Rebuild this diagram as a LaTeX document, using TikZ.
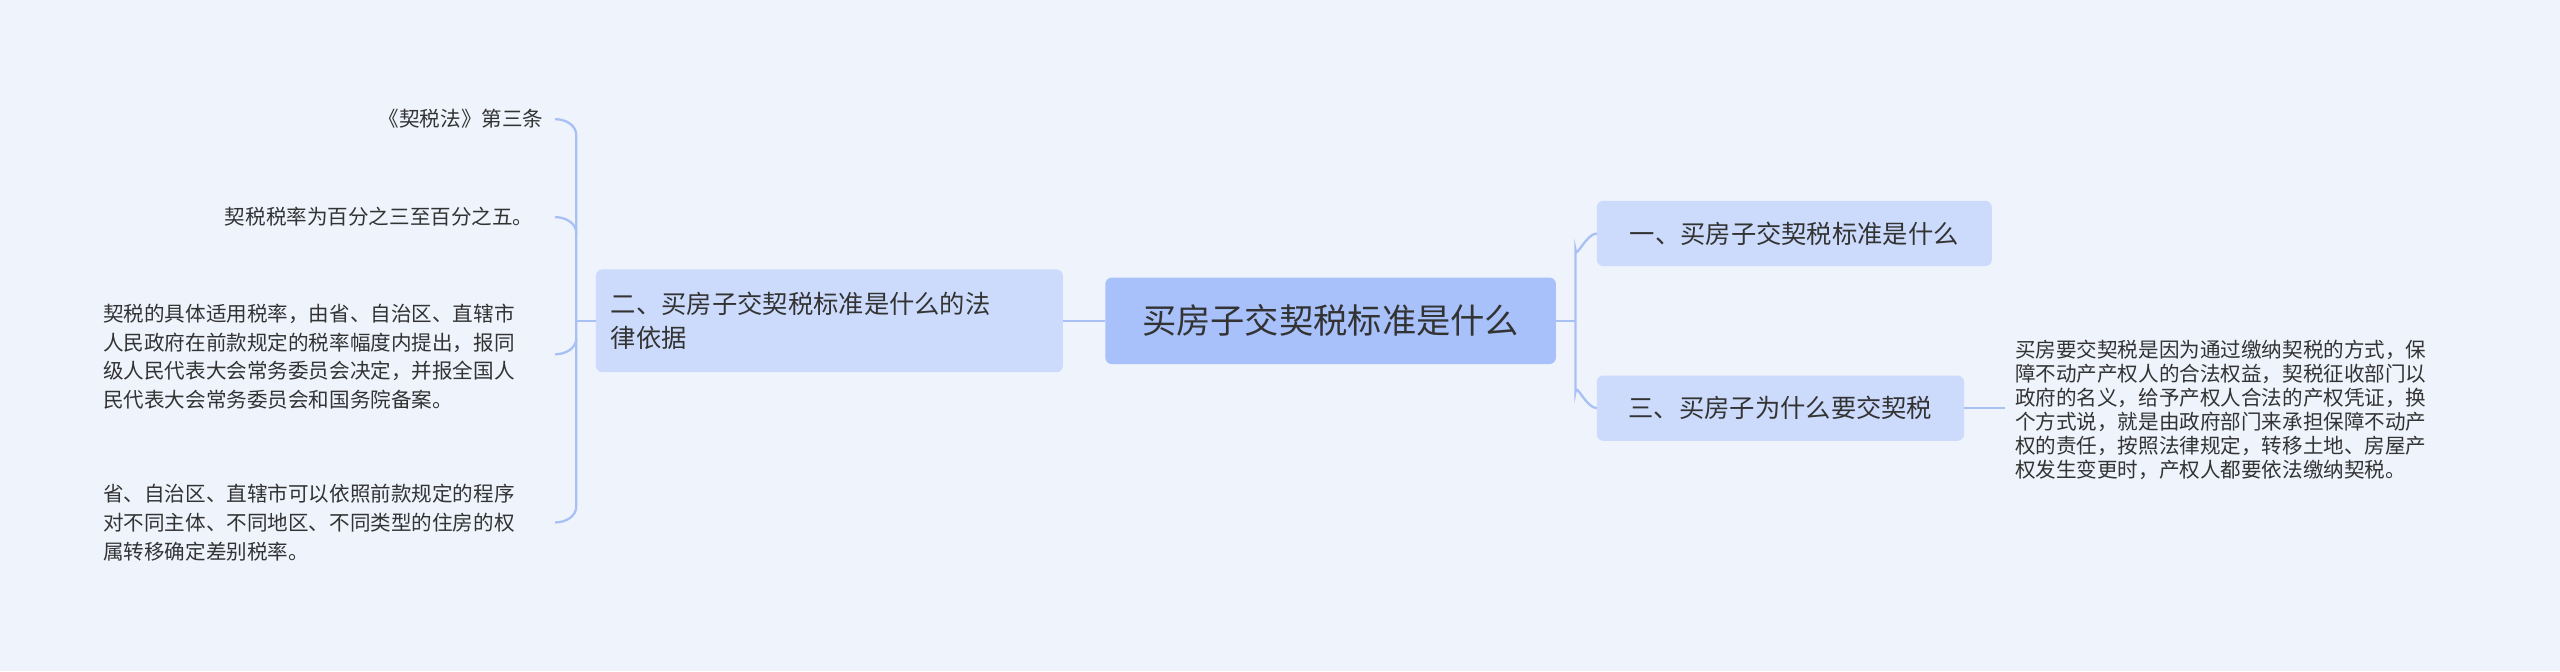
\documentclass[tikz,border=0pt]{standalone}
\usepackage{fontspec}
\setmainfont{Noto Sans CJK SC}
\definecolor{bg}{HTML}{EEF3FC}
\definecolor{rootc}{HTML}{A8C1FB}
\definecolor{subc}{HTML}{CCDBFC}
\definecolor{linec}{HTML}{A9C0F5}
\definecolor{txt}{HTML}{333333}
\begin{document}
\begin{tikzpicture}[x=1pt,y=-1pt,
  rootbox/.style={fill=rootc,rounded corners=4pt,inner sep=0pt,text=txt,font=\fontsize{21}{26}\selectfont},
  subbox/.style={fill=subc,rounded corners=4pt,inner sep=0pt,text=txt,font=\fontsize{15.5}{21}\selectfont},
  leaf/.style={inner sep=0pt,text=txt,font=\fontsize{12.6}{17.6}\selectfont,align=left},
  conn/.style={draw=linec,line width=1.4pt}]
\fill[bg] (0,0) rectangle (1568,411);
\useasboundingbox (0,0) rectangle (1568,411);
% boxes
\path[rootbox] (677,170) rectangle (953,223);
\node[rootbox,fill=none] (root) at (815,196.5) {买房子交契税标准是什么};
\path[subbox] (365,165) rectangle (651,228);
\node[subbox,fill=none,anchor=west,align=left,text width=275pt] (l) at (374,196.5) {二、买房子交契税标准是什么的法\\律依据};
\path[subbox] (978,123) rectangle (1220,163);
\node[subbox,fill=none] (r1) at (1099,143) {一、买房子交契税标准是什么};
\path[subbox] (978,230) rectangle (1203,270);
\node[subbox,fill=none] (r3) at (1090.5,250) {三、买房子为什么要交契税};
\coordinate (rootW) at (677,196.5);
\coordinate (rootE) at (953,196.5);
\coordinate (lE) at (651,196.5);
\coordinate (lW) at (365,196.5);
\coordinate (r1W) at (978,143);
\coordinate (r3W) at (978,250);
\coordinate (r3E) at (1203,250);
% leaves
\node[leaf,anchor=west,font=\fontsize{12.6}{14.7}\selectfont] (rt) at (1234,251) {买房要交契税是因为通过缴纳契税的方式，保\\障不动产产权人的合法权益，契税征收部门以\\政府的名义，给予产权人合法的产权凭证，换\\个方式说，就是由政府部门来承担保障不动产\\权的责任，按照法律规定，转移土地、房屋产\\权发生变更时，产权人都要依法缴纳契税。};
\coordinate (rtW) at (1228,250);
\node[leaf,anchor=east] (a) at (333,73) {《契税法》第三条};
\node[leaf,anchor=east] (b) at (327,133) {契税税率为百分之三至百分之五。};
\node[leaf,anchor=west,text width=272pt] (c) at (63,218.5) {契税的具体适用税率，由省、自治区、直辖市\\人民政府在前款规定的税率幅度内提出，报同\\级人民代表大会常务委员会决定，并报全国人\\民代表大会常务委员会和国务院备案。};
\node[leaf,anchor=west,text width=272pt] (d) at (63,320) {省、自治区、直辖市可以依照前款规定的程序\\对不同主体、不同地区、不同类型的住房的权\\属转移确定差别税率。};
\coordinate (aE) at (340,73);
\coordinate (bE) at (340,133);
\coordinate (cE) at (340,217);
\coordinate (dE) at (340,320);
% connectors
\draw[conn] (rootW) -- (lE);
\draw[conn] (rootE) -- (965,196.5);
\draw[conn] (965,196.5) -- (965,153) to[out=-90,in=180] (r1W);
\draw[conn] (965,196.5) -- (965,240) to[out=90,in=180] (r3W);
\draw[conn] (r3E) -- (rtW);
\draw[conn] (lW) -- (353,196.5);
\draw[conn] (aE) to[out=0,in=90] (353,83) -- (353,310) to[out=-90,in=0] (dE);
\draw[conn] (bE) to[out=0,in=90] (353,143);
\draw[conn] (cE) to[out=0,in=-90] (353,207);
\end{tikzpicture}
\end{document}
